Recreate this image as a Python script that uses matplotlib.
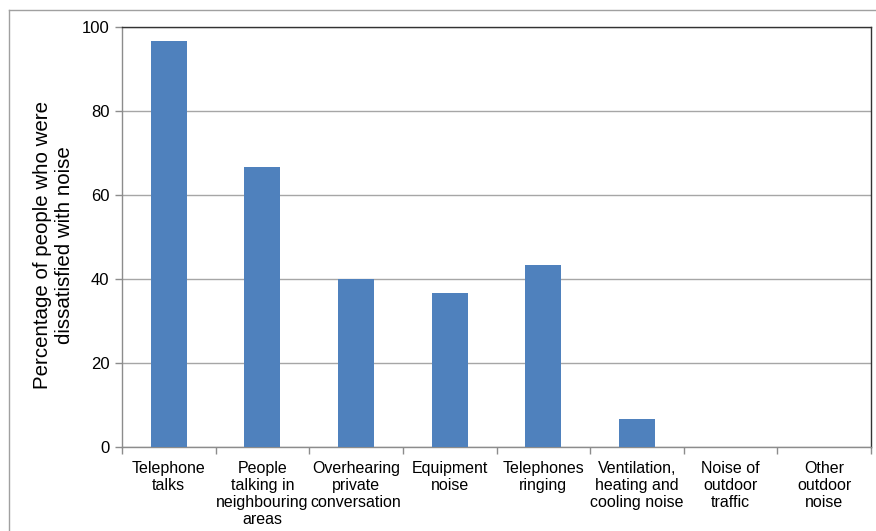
import matplotlib
matplotlib.use("Agg")
import matplotlib.pyplot as plt
import numpy as np
from matplotlib.lines import Line2D

plt.rcParams['font.family'] = ['Liberation Sans', 'DejaVu Sans']

categories = [
    "Telephone\ntalks",
    "People\ntalking in\nneighbouring\nareas",
    "Overhearing\nprivate\nconversation",
    "Equipment\nnoise",
    "Telephones\nringing",
    "Ventilation,\nheating and\ncooling noise",
    "Noise of\noutdoor\ntraffic",
    "Other\noutdoor\nnoise",
]
values = [96.7, 66.7, 40.0, 36.7, 43.3, 6.7, 0.0, 0.0]
y_ticks = [0, 20, 40, 60, 80, 100]
y_label = "Percentage of people who were\ndissatisfied with noise"

fig = plt.figure(figsize=(8.76, 5.31), dpi=100)
ax = fig.add_axes([122 / 876, 1 - 447 / 531, (871 - 122) / 876, (447 - 27) / 531])

x = np.arange(len(categories))
ax.bar(x, values, width=0.385, color="#4f81bd", zorder=3)

ax.set_xlim(-0.5, len(categories) - 0.5)
ax.set_ylim(0, 100)
ax.set_yticks(y_ticks)
ax.yaxis.grid(True, color="#a6a6a6", linewidth=1, zorder=0)

# labels sit at the centres, tick marks at the category borders
ax.set_xticks(x)
ax.set_xticklabels(categories, fontsize=11.5, linespacing=1.18)
ax.set_xticks(np.arange(len(categories) + 1) - 0.5, minor=True)
ax.tick_params(axis="x", which="major", length=0, pad=10)
ax.tick_params(axis="x", which="minor", length=5, color="#8c8c8c", width=1)
ax.tick_params(axis="y", length=5, color="#8c8c8c", width=1, labelsize=12, pad=4)

ax.set_ylabel(y_label, fontsize=14.8, linespacing=1.2)
ax.yaxis.set_label_coords(-0.064, 0.48)

ax.spines["left"].set_color("#8c8c8c")
ax.spines["bottom"].set_color("#8c8c8c")
ax.spines["top"].set_color("#333333")
ax.spines["right"].set_color("#333333")
for s in ax.spines.values():
    s.set_linewidth(1)

# outer chart border (runs off the right and bottom edges)
fig.add_artist(Line2D([8.5 / 876, 8.5 / 876], [0, 1 - 9.5 / 531], transform=fig.transFigure,
                      color="#a0a0a0", linewidth=1))
fig.add_artist(Line2D([8.5 / 876, 1], [1 - 9.5 / 531, 1 - 9.5 / 531], transform=fig.transFigure,
                      color="#a0a0a0", linewidth=1))

fig.savefig("out.png", dpi=100)
